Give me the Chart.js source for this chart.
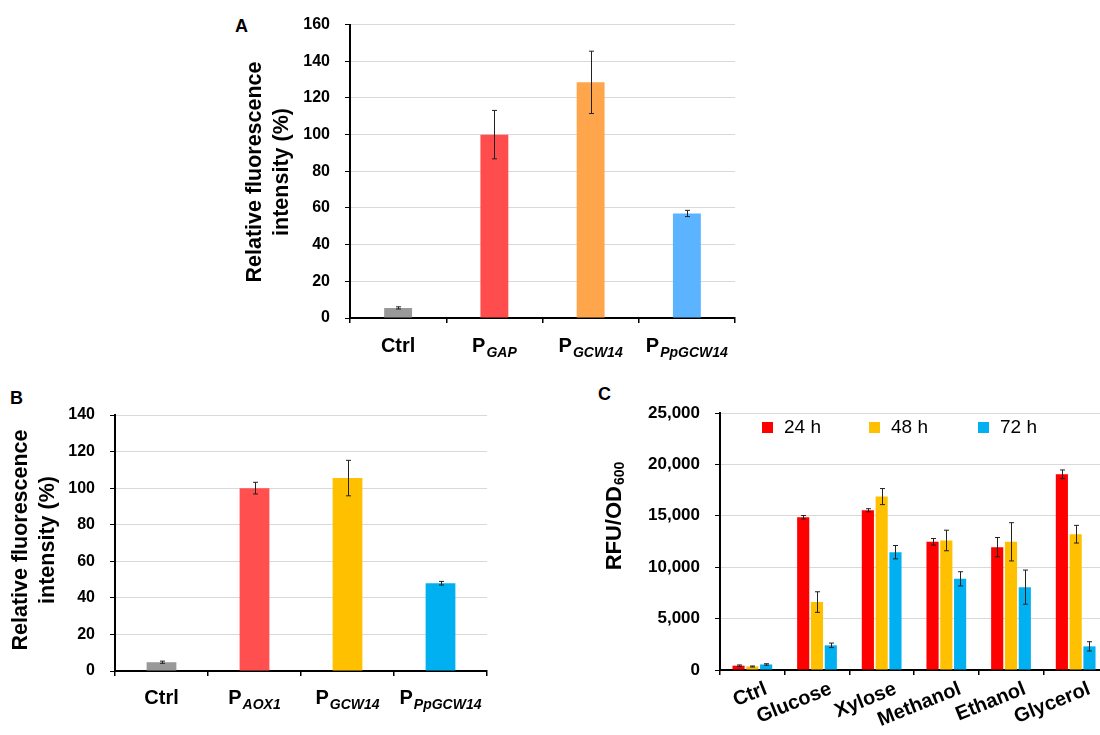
<!DOCTYPE html>
<html>
<head>
<meta charset="utf-8">
<script src="https://cdn.jsdelivr.net/npm/chart.js@4.4.1/dist/chart.umd.min.js"></script>
<style>
    html, body { margin: 0; padding: 0; background: #fff; overflow: hidden; width: 1100px; height: 735px; }
    canvas { position: absolute; }
    .tag { position: absolute; font: bold 18px "Liberation Sans", Arial, sans-serif; line-height: 18px; color: #000; }
</style>
</head>
<body>
<div class="tag" style="left:235px; top:17px;">A</div>
<div class="tag" style="left:10px; top:389px;">B</div>
<div class="tag" style="left:598px; top:385px;">C</div>
<canvas id="chartA" width="530" height="370" style="left:220px; top:0;"></canvas>
<canvas id="chartB" width="500" height="350" style="left:0; top:385px;"></canvas>
<canvas id="chartC" width="520" height="350" style="left:600px; top:385px;"></canvas>
<script>
// Panel A - promoter comparison
const labelsA = ['Ctrl', 'P_GAP', 'P_GCW14', 'P_PpGCW14'];
const valuesA = [5.5, 100, 128.5, 57];
const errorsA = [0.6, 13.2, 17, 1.7];
const colorsA = ['#999999', '#FF4D4D', '#FFA64D', '#5CB3FF'];

// Panel B - promoter comparison vs AOX1
const labelsB = ['Ctrl', 'P_AOX1', 'P_GCW14', 'P_PpGCW14'];
const valuesB = [4.8, 100, 105.5, 48];
const errorsB = [0.6, 3.2, 9.7, 1];
const colorsB = ['#999999', '#FF4F4F', '#FFC000', '#00B0F0'];

// Panel C - carbon sources over time
const labelsC = ['Ctrl', 'Glucose', 'Xylose', 'Methanol', 'Ethanol', 'Glycerol'];
const seriesC = ['24 h', '48 h', '72 h'];
const values24h = [420, 14860, 15540, 12470, 11950, 19040];
const errors24h = [70, 170, 150, 320, 940, 420];
const values48h = [340, 6610, 16870, 12600, 12470, 13210];
const errors48h = [50, 1000, 780, 1000, 1860, 860];
const values72h = [540, 2400, 11460, 8870, 8060, 2300];
const errors72h = [70, 220, 650, 690, 1660, 450];
const colorsC = ['#FF0000', '#FFC000', '#00B0F0'];

const FONT = '"Liberation Sans", Arial, sans-serif';

// draws "main_sub" as main text + subscript, starting at x
function richWidth(ctx, text, mainFont, subFont) {
    const [main, sub] = text.split('_');
    ctx.font = mainFont;
    let w = ctx.measureText(main).width;
    if (sub) { ctx.font = subFont; w += ctx.measureText(sub).width + 1; }
    return w;
}
function drawRich(ctx, text, x, y, mainFont, subFont, subDrop) {
    const [main, sub] = text.split('_');
    ctx.font = mainFont;
    ctx.fillText(main, x, y);
    if (sub) {
        const w = ctx.measureText(main).width + 1;
        ctx.font = subFont;
        ctx.fillText(sub, x + w, y + subDrop);
    }
}

const errorBars = {
    id: 'errorBars',
    afterDatasetsDraw(chart) {
        const ctx = chart.ctx, ys = chart.scales.y;
        ctx.save();
        ctx.strokeStyle = '#222';
        ctx.lineWidth = 1;
        chart.data.datasets.forEach((ds, d) => {
            const meta = chart.getDatasetMeta(d);
            meta.data.forEach((bar, i) => {
                const v = ds.data[i], e = ds.errors[i];
                const x = Math.round(bar.x) + 0.5;
                const top = ys.getPixelForValue(v + e), bot = ys.getPixelForValue(v - e);
                ctx.beginPath();
                ctx.moveTo(x, top); ctx.lineTo(x, bot);
                ctx.moveTo(x - 2.5, top); ctx.lineTo(x + 2.5, top);
                ctx.moveTo(x - 2.5, bot); ctx.lineTo(x + 2.5, bot);
                ctx.stroke();
            });
        });
        ctx.restore();
    }
};

const yTitle = {
    id: 'yTitle',
    afterDraw(chart, args, o) {
        const ctx = chart.ctx;
        ctx.save();
        ctx.fillStyle = '#000';
        ctx.textBaseline = 'middle';
        ctx.textAlign = 'left';
        o.lines.forEach((line, i) => {
            const w = richWidth(ctx, line, o.font, o.subFont);
            ctx.save();
            ctx.translate(o.x[i], o.y);
            ctx.rotate(-Math.PI / 2);
            drawRich(ctx, line, -w / 2, 0, o.font, o.subFont, 5);
            ctx.restore();
        });
        ctx.restore();
    }
};

const subLabels = {
    id: 'subLabels',
    afterDraw(chart, args, o) {
        if (!o.y) return;
        const ctx = chart.ctx, xs = chart.scales.x;
        ctx.save();
        ctx.fillStyle = '#000';
        ctx.textBaseline = 'alphabetic';
        ctx.textAlign = 'left';
        const mainFont = 'bold 20px ' + FONT, subFont = 'italic bold 14px ' + FONT;
        chart.data.labels.forEach((lab, i) => {
            const w = richWidth(ctx, lab, mainFont, subFont);
            drawRich(ctx, lab, xs.getPixelForValue(i) - w / 2, o.y, mainFont, subFont, 5);
        });
        ctx.restore();
    }
};

const rotLabels = {
    id: 'rotLabels',
    afterDraw(chart, args, o) {
        if (!o.angle) return;
        const ctx = chart.ctx, xs = chart.scales.x;
        ctx.save();
        ctx.fillStyle = '#000';
        ctx.font = 'bold 20px ' + FONT;
        ctx.textAlign = 'right';
        ctx.textBaseline = 'top';
        chart.data.labels.forEach((lab, i) => {
            ctx.save();
            ctx.translate(xs.getPixelForValue(i) + o.dx, chart.chartArea.bottom + o.dy);
            ctx.rotate(-o.angle * Math.PI / 180);
            ctx.fillText(lab, 0, 0);
            ctx.restore();
        });
        ctx.restore();
    }
};

const innerLegend = {
    id: 'innerLegend',
    afterDraw(chart, args, o) {
        if (!o.x) return;
        const ctx = chart.ctx, area = chart.chartArea;
        ctx.save();
        ctx.font = '19px ' + FONT;
        ctx.textBaseline = 'alphabetic';
        ctx.textAlign = 'left';
        chart.data.datasets.forEach((ds, d) => {
            const x = area.left + o.x[d], y = area.top + o.y;
            ctx.fillStyle = ds.backgroundColor;
            ctx.fillRect(x, y, 11, 11);
            ctx.fillStyle = '#000';
            ctx.fillText(ds.label, x + 22, y + 11);
        });
        ctx.restore();
    }
};

function axes(yMax, yStep, yWidth, xHeight, tickSize, fmt) {
    return {
        x: {
            afterFit: s => { s.height = xHeight; },
            border: { color: '#000', width: 2 },
            grid: { offset: true, drawOnChartArea: false, drawTicks: true, tickLength: 5, tickColor: '#000', lineWidth: 1.5 },
            ticks: { display: false }
        },
        y: {
            min: 0, max: yMax,
            afterFit: s => { s.width = yWidth; },
            border: { color: '#000', width: 2 },
            grid: { color: '#d9d9d9', lineWidth: 1, tickLength: 5, tickColor: '#000' },
            ticks: {
                stepSize: yStep, padding: 15, color: '#000',
                font: { family: FONT, size: tickSize, weight: 'bold' },
                callback: fmt || (v => v)
            }
        }
    };
}

function singleBars(id, labels, values, errors, colors, yMax, pad, xHeight, pct, titleOpts, labelY) {
    new Chart(document.getElementById(id), {
        type: 'bar',
        data: {
            labels: labels,
            datasets: [{ data: values, errors: errors, backgroundColor: colors, categoryPercentage: 1, barPercentage: pct }]
        },
        options: {
            responsive: false, animation: false, devicePixelRatio: 1,
            layout: { padding: pad },
            plugins: {
                legend: { display: false }, tooltip: { enabled: false },
                yTitle: titleOpts,
                subLabels: { y: labelY }
            },
            scales: axes(yMax, 20, pad.yWidth, xHeight, 16)
        },
        plugins: [errorBars, yTitle, subLabels]
    });
}

singleBars('chartA', labelsA, valuesA, errorsA, colorsA, 160,
    { top: 23, right: 15, left: 0, bottom: 0, yWidth: 130 }, 52, 0.29,
    { lines: ['Relative fluorescence', 'intensity (%)'], x: [35, 62], y: 172,
      font: 'bold 21.5px ' + FONT, subFont: 'bold 14px ' + FONT }, 352);

singleBars('chartB', labelsB, valuesB, errorsB, colorsB, 140,
    { top: 30, right: 13, left: 0, bottom: 0, yWidth: 115 }, 64, 0.32,
    { lines: ['Relative fluorescence', 'intensity (%)'], x: [21, 48], y: 155,
      font: 'bold 21.5px ' + FONT, subFont: 'bold 14px ' + FONT }, 319);

new Chart(document.getElementById('chartC'), {
    type: 'bar',
    data: {
        labels: labelsC,
        datasets: [
            { label: seriesC[0], data: values24h, errors: errors24h, backgroundColor: colorsC[0] },
            { label: seriesC[1], data: values48h, errors: errors48h, backgroundColor: colorsC[1] },
            { label: seriesC[2], data: values72h, errors: errors72h, backgroundColor: colorsC[2] }
        ]
    },
    options: {
        responsive: false, animation: false, devicePixelRatio: 1,
        layout: { padding: { top: 28, right: 12, left: 0, bottom: 0 } },
        datasets: { bar: { categoryPercentage: 0.64, barPercentage: 0.88 } },
        plugins: {
            legend: { display: false }, tooltip: { enabled: false },
            yTitle: { lines: ['RFU/OD_600'], x: [15], y: 131, font: 'bold 22px ' + FONT, subFont: 'bold 14px ' + FONT },
            rotLabels: { angle: 22, dx: 10, dy: 9 },
            innerLegend: { x: [42, 149, 258], y: 9 }
        },
        scales: axes(25000, 5000, 120, 65, 17, v => v.toLocaleString('en-US'))
    },
    plugins: [errorBars, yTitle, rotLabels, innerLegend]
});
</script>
</body>
</html>
